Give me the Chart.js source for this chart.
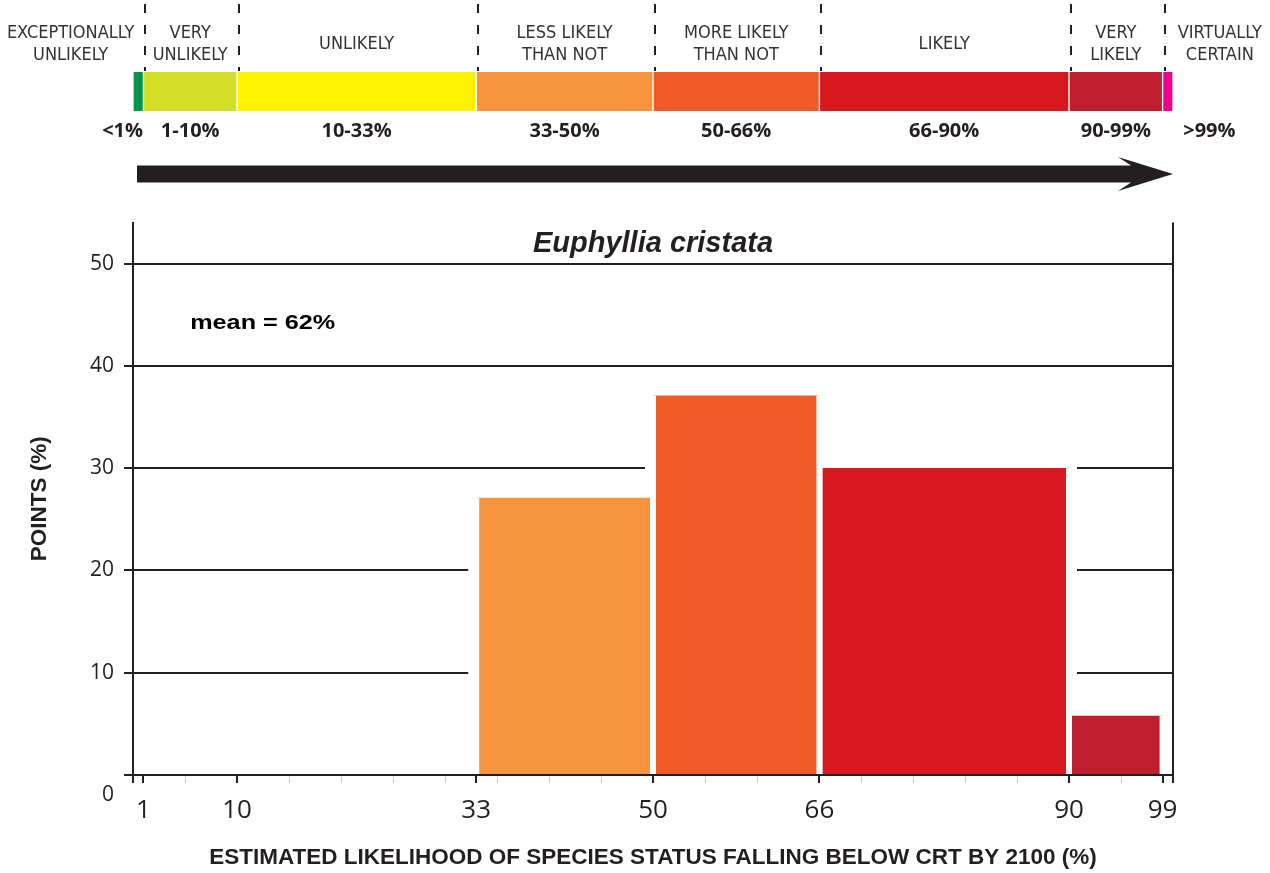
<!DOCTYPE html>
<html lang="en">
<head>
<meta charset="UTF-8">
<title>Euphyllia cristata</title>
<script src="https://cdn.jsdelivr.net/npm/chart.js@4"></script>
<style>
  html, body { margin: 0; padding: 0; background: #fff; }
  #wrap { position: relative; width: 1270px; height: 873px; }
  #scaleChart { position: absolute; left: 0; top: 0; }
  #histChart { position: absolute; left: 0; top: 200px; }
</style>
</head>
<body>
<div id="wrap">
  <canvas id="scaleChart" width="1270" height="200"></canvas>
  <canvas id="histChart" width="1270" height="673"></canvas>
</div>
<script>
// likelihood scale (top band)
const scaleEdges = [0, 1, 10, 33, 50, 66, 90, 99, 100];
const scaleNames = [
  ['EXCEPTIONALLY', 'UNLIKELY'], ['VERY', 'UNLIKELY'], ['UNLIKELY'], ['LESS LIKELY', 'THAN NOT'],
  ['MORE LIKELY', 'THAN NOT'], ['LIKELY'], ['VERY', 'LIKELY'], ['VIRTUALLY', 'CERTAIN']
];
const scaleRanges = ['<1%', '1-10%', '10-33%', '33-50%', '50-66%', '66-90%', '90-99%', '>99%'];
const scaleColors = ['#00964a', '#d5de27', '#fff100', '#f7943d', '#ef5a28', '#d7191f', '#be1e2d', '#ec008c'];

// histogram
const binStart = [33, 50, 66, 90];
const binEnd = [50, 66, 90, 99];
const pointsPct = [27.1, 37.1, 30.0, 5.8];
const binColors = ['#f7943d', '#ef5a28', '#d7191f', '#be1e2d'];
const xMajorTicks = [1, 10, 33, 50, 66, 90, 99];
const xMinorTicks = [5, 15, 20, 25, 30, 35, 40, 45, 55, 60, 70, 75, 80, 85, 95];
const speciesName = 'Euphyllia cristata';
const meanLabel = 'mean = 62%';
const meanAt = [5.5, 44.2];

const INK = '#231f20';
const NARROW = '"Liberation Sans Narrow", "DejaVu Sans Condensed", "Liberation Sans", sans-serif';
const SANS = '"Open Sans", "Liberation Sans", sans-serif';

// ---- top band: labels, dashes, arrow
const scaleDecor = {
  id: 'scaleDecor',
  afterDraw(chart) {
    const ctx = chart.ctx, area = chart.chartArea;
    const px = v => chart.scales.x.getPixelForValue(v);
    ctx.save();

    ctx.strokeStyle = INK;
    ctx.lineWidth = 2;
    ctx.setLineDash([9, 12]);
    for (let i = 1; i < scaleEdges.length - 1; i++) {
      const xx = Math.round(px(scaleEdges[i])) + 2;
      ctx.beginPath();
      ctx.moveTo(xx, 4);
      ctx.lineTo(xx, area.top - 1);
      ctx.stroke();
    }
    ctx.setLineDash([]);

    ctx.textAlign = 'center';
    ctx.textBaseline = 'middle';
    ctx.fillStyle = '#333';
    ctx.font = '18px ' + NARROW;
    const nameEdges = [-13, ...scaleEdges.slice(1, -1), 110];
    scaleNames.forEach((lines, i) => {
      const cx = (px(nameEdges[i]) + px(nameEdges[i + 1])) / 2;
      lines.forEach((t, j) => {
        const y = lines.length === 1 ? area.top - 28 : area.top - 39 + j * 22;
        ctx.fillText(t, cx, y);
      });
    });

    ctx.fillStyle = INK;
    ctx.font = 'bold 20px ' + SANS;
    const rangeEdges = [-3, ...scaleEdges.slice(1, -1), 108];
    scaleRanges.forEach((t, i) => {
      const cx = (px(rangeEdges[i]) + px(rangeEdges[i + 1])) / 2;
      ctx.fillText(t, cx, area.bottom + 20);
    });

    // arrow
    const x0 = px(0) + 4, tip = px(100), yc = area.bottom + 63;
    ctx.beginPath();
    ctx.moveTo(x0, yc - 8.5);
    ctx.lineTo(tip - 42, yc - 8.5);
    ctx.lineTo(tip - 55, yc - 17);
    ctx.lineTo(tip, yc);
    ctx.lineTo(tip - 55, yc + 17);
    ctx.lineTo(tip - 42, yc + 8.5);
    ctx.lineTo(x0, yc + 8.5);
    ctx.closePath();
    ctx.fill();
    ctx.restore();
  }
};

new Chart(document.getElementById('scaleChart'), {
  type: 'bar',
  data: {
    labels: ['scale'],
    datasets: scaleColors.map((c, i) => ({
      data: [[scaleEdges[i], scaleEdges[i + 1]]],
      backgroundColor: c,
      borderColor: '#fff',
      borderWidth: { left: 1, right: 1, top: 0, bottom: 0 },
      borderSkipped: false,
      grouped: false,
      barPercentage: 1,
      categoryPercentage: 1
    }))
  },
  options: {
    indexAxis: 'y',
    responsive: false,
    animation: false,
    layout: { padding: { left: 133, right: 97, top: 72, bottom: 89 } },
    plugins: { legend: { display: false }, tooltip: { enabled: false } },
    scales: {
      x: { type: 'linear', min: 0, max: 100, display: false },
      y: { display: false }
    }
  },
  plugins: [scaleDecor]
});

// ---- histogram
const histText = {
  id: 'histText',
  afterDraw(chart) {
    const ctx = chart.ctx, area = chart.chartArea;
    ctx.save();
    ctx.fillStyle = INK;
    ctx.textBaseline = 'middle';
    ctx.textAlign = 'center';
    ctx.font = 'italic bold 29px "Liberation Sans", sans-serif';
    ctx.fillText(speciesName, (area.left + area.right) / 2, area.top + 21);

    ctx.fillStyle = '#000';
    ctx.textAlign = 'left';
    ctx.font = 'bold 21px "Liberation Sans", sans-serif';
    const mx = chart.scales.x.getPixelForValue(meanAt[0]);
    const my = chart.scales.y.getPixelForValue(meanAt[1]);
    ctx.translate(mx, my);
    ctx.scale(1.2, 1);
    ctx.fillText(meanLabel, 0, 0);
    ctx.restore();
  }
};

const barShape = i => [
  { x: binStart[i], y: 0 }, { x: binStart[i], y: pointsPct[i] },
  { x: binEnd[i], y: pointsPct[i] }, { x: binEnd[i], y: 0 }
];

// white outline under each bar breaks the grid lines around it
const halos = pointsPct.map((v, i) => ({
  data: barShape(i),
  showLine: true,
  fill: false,
  borderColor: '#fff',
  borderWidth: 16,
  pointRadius: 0,
  order: 2
}));
const bars = pointsPct.map((v, i) => ({
  data: barShape(i),
  showLine: true,
  fill: 'origin',
  backgroundColor: binColors[i],
  borderWidth: 6,
  segment: {
    borderColor: c => c.p0.parsed.x === c.p1.parsed.x ? '#fff' : 'rgba(0,0,0,0)'
  },
  pointRadius: 0,
  order: 1
}));

const isMajor = v => v === 0 || v === 100 || xMajorTicks.includes(v);

new Chart(document.getElementById('histChart'), {
  type: 'scatter',
  data: { datasets: [...halos, ...bars] },
  options: {
    responsive: false,
    animation: false,
    layout: { padding: { left: 0, right: 97, top: 20, bottom: 0 } },
    elements: { line: { tension: 0 } },
    plugins: { legend: { display: false }, tooltip: { enabled: false } },
    scales: {
      x: {
        type: 'linear',
        min: 0,
        max: 100,
        afterBuildTicks: s => {
          s.ticks = [0, ...xMajorTicks, ...xMinorTicks, 100].sort((a, b) => a - b).map(v => ({ value: v }));
        },
        afterFit: s => { s.height = 98; },
        border: { display: true, color: INK, width: 2, z: 1 },
        grid: {
          z: 1,
          drawOnChartArea: true,
          color: c => c.tick && c.tick.value === 100 ? INK : 'rgba(0,0,0,0)',
          tickColor: c => c.tick && isMajor(c.tick.value) ? INK : '#c8c8c8',
          lineWidth: c => c.tick && isMajor(c.tick.value) ? 2 : 1,
          tickLength: 8
        },
        ticks: {
          autoSkip: false,
          maxRotation: 0,
          padding: 12,
          color: INK,
          font: { family: SANS, size: 26 },
          callback: v => xMajorTicks.includes(v) ? String(v) : ''
        },
        title: {
          display: true,
          text: 'ESTIMATED LIKELIHOOD OF SPECIES STATUS FALLING BELOW CRT BY 2100 (%)',
          color: INK,
          font: { family: '"Liberation Sans", sans-serif', size: 22.5, weight: 'bold' },
          padding: { top: 0, bottom: 1.5 }
        }
      },
      y: {
        min: 0,
        max: 54,
        afterFit: s => { s.width = 133; },
        border: { display: true, color: INK, width: 2 },
        grid: { color: INK, lineWidth: 2, tickLength: 9 },
        ticks: {
          stepSize: 10,
          includeBounds: false,
          padding: 10,
          color: INK,
          font: c => ({ family: SANS, size: 21, lineHeight: c.tick && c.tick.value === 0 ? 1.9 : 1.2 }),
          callback: v => v === 0 ? ['', '0'] : String(v)
        },
        title: {
          display: true,
          text: 'POINTS (%)',
          color: INK,
          font: { family: '"Liberation Sans", sans-serif', size: 22.5, weight: 'bold' },
          padding: { top: 26, bottom: 0 }
        }
      }
    }
  },
  plugins: [histText]
});
</script>
</body>
</html>
